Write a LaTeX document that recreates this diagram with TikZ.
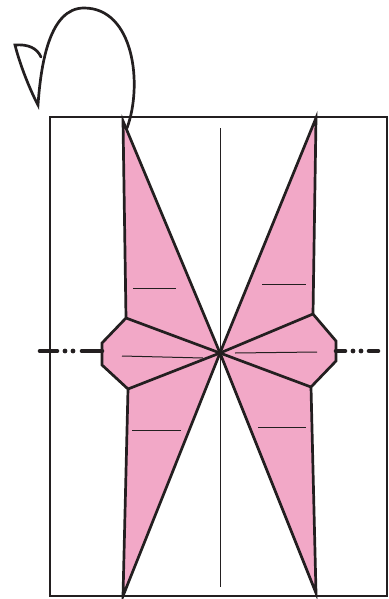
\documentclass[tikz,border=0pt]{standalone}
\usepackage{amsmath}
\usetikzlibrary{calc}
\definecolor{inkline}{HTML}{231F20}
\definecolor{wingpink}{HTML}{F2A8C7}

\begin{document}
\begin{tikzpicture}[
        x=1pt, y=-1pt,
        outline/.style={draw=inkline, line width=2.7pt, line join=miter},
        wing/.style={outline, fill=wingpink},
        crease/.style={draw=inkline, line width=1pt},
        axis/.style={draw=inkline, line width=4.6pt, line cap=round},
        dotmark/.style={circle, fill=inkline, inner sep=0pt, minimum size=4.8pt}
      ]
        \useasboundingbox (0,0) rectangle (388,599);
        \coordinate (mid) at (220,353);
        \draw[outline] (50,117) rectangle (387,596);
        % left half
        \draw[wing] (mid) -- (123,121) -- (126,318) -- (102,343) -- (102,365) -- (128,389) -- (123,596) -- cycle;
        \draw[outline] (126,318) -- (mid) -- (128,389);
        % right half
        \draw[wing] (mid) -- (316,118) -- (313,314) -- (336,341) -- (336,361) -- (311,387) -- (316,593) -- cycle;
        \draw[outline] (313,314) -- (mid) -- (311,387);
        % creases
        \draw[crease] (220.5,128) -- (220.5,587);
        \draw[crease] (133,288) -- (176,288);
        \draw[crease] (262,284) -- (306,284);
        \draw[crease] (132,430) -- (181,430);
        \draw[crease] (258,427) -- (306,427);
        \draw[crease] (122,356) -- (203,358);
        \draw[crease] (235,353) -- (317,352);
        \node[dotmark] (centre) at (mid) {};
        % fold marks
        \draw[axis] (40,351) -- (57,351);
        \draw[axis] (82,351) -- (102,351);
        \node[dotmark] (dotla) at (65,351) {};
        \node[dotmark] (dotlb) at (73,351) {};
        \draw[axis] (336,351) -- (345,351);
        \draw[axis] (369,351) -- (378,351);
        \node[dotmark] (dotra) at (353,351) {};
        \node[dotmark] (dotrb) at (361,351) {};
        % turn-over arrow
        \draw[outline, line cap=round] (127,128) .. controls (143,85) and (134,8) .. (84,8)
          .. controls (50,8) and (41,62) .. (38,105)
          .. controls (30,90) and (20,65) .. (15,45)
          .. controls (28,44) and (37,48) .. (41,57);
      \end{tikzpicture}
\end{document}
